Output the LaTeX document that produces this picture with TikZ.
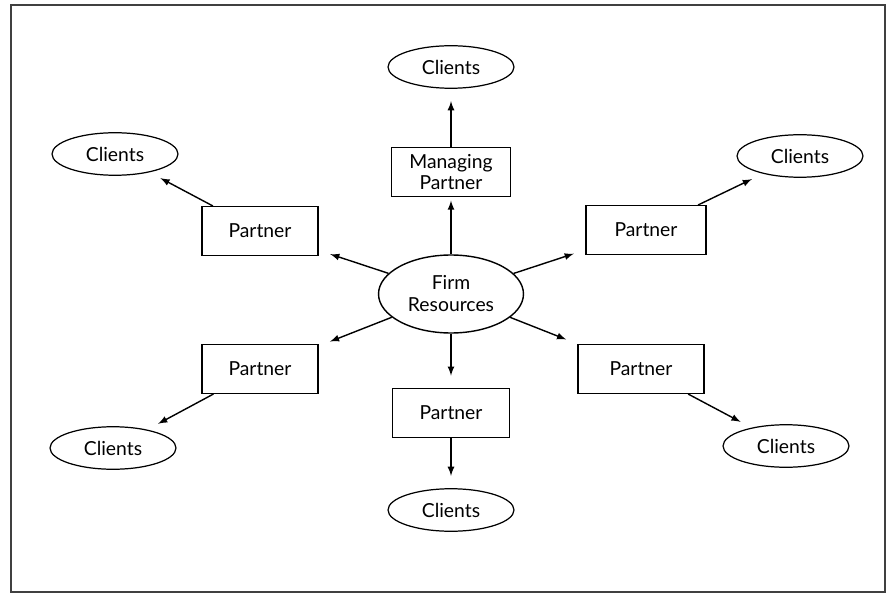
\documentclass[tikz,border=0pt]{standalone}
\usepackage{fontspec}
\setmainfont{Lato}
\usepackage{xcolor}
\usepackage{tikz}
\usetikzlibrary{shapes.geometric, arrows}

\begin{document}
\begin{tikzpicture}[
    x=0.02cm, y=-0.02cm,
    client/.style={ellipse, draw, line width=0.7pt, minimum width=2.52cm, minimum height=0.85cm, inner sep=0pt, font=\fontsize{11}{12}\selectfont},
    partner/.style={rectangle, draw, line width=0.6pt, minimum width=2.32cm, minimum height=0.98cm, align=center, inner sep=1pt, font=\fontsize{11}{11.5}\selectfont},
    hub/.style={ellipse, draw, line width=0.8pt, minimum width=2.9cm, minimum height=1.56cm, align=center, inner sep=0pt, font=\fontsize{11}{12.5}\selectfont},
    arrow/.style={-latex, line width=0.8pt, shorten >=7pt}
]
    % frame
    \useasboundingbox (0,0) rectangle (888,594);
    \draw[line width=1.1pt, black!75] (11,5) rectangle (885,592);

    % centre
    \node[hub] (firm) at (451,294) {Firm\\Resources};

    % partners
    \node[partner, minimum width=2.38cm] (mp) at (451,172) {Managing\\Partner};
    \node[partner] (pul) at (260,231) {Partner};
    \node[partner, minimum width=2.4cm] (pur) at (646,230) {Partner};
    \node[partner] (pll) at (260,369) {Partner};
    \node[partner, minimum width=2.52cm] (plr) at (641,369) {Partner};
    \node[partner, minimum width=2.34cm] (pb) at (451,413) {Partner};

    % clients
    \node[client] (ct) at (451,67) {Clients};
    \node[client] (cul) at (115,154) {Clients};
    \node[client] (cur) at (800,156) {Clients};
    \node[client] (cll) at (113,448) {Clients};
    \node[client] (clr) at (786,446) {Clients};
    \node[client] (cb) at (451,510) {Clients};

    % firm to partners
    \draw[arrow, shorten >=2pt] (firm) -- (mp);
    \draw[arrow] (firm) -- (pul);
    \draw[arrow] (firm) -- (pur);
    \draw[arrow] (firm) -- (pll);
    \draw[arrow] (firm) -- (plr);
    \draw[arrow] (firm) -- (pb);

    % partners to clients
    \draw[arrow] (mp) -- (ct);
    \draw[arrow] (pul) -- (cul);
    \draw[arrow] (pur) -- (cur);
    \draw[arrow] (pll) -- (cll);
    \draw[arrow] (plr) -- (clr);
    \draw[arrow] (pb) -- (cb);
\end{tikzpicture}
\end{document}
